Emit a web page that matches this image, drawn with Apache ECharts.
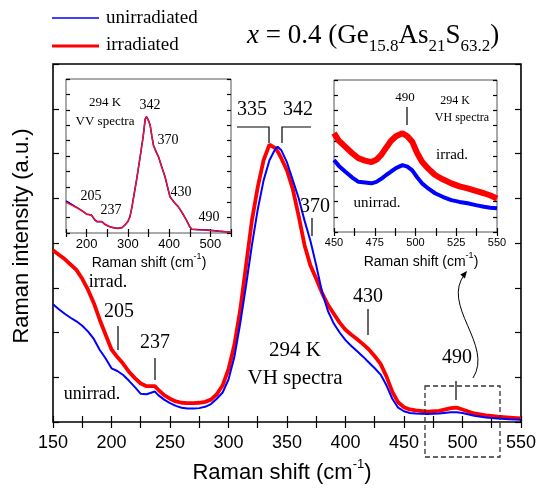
<!DOCTYPE html>
<html>
<head>
<meta charset="utf-8">
<script src="https://cdn.jsdelivr.net/npm/echarts@6/dist/echarts.min.js"></script>
<style>html,body{margin:0;padding:0;background:#fff}#c{width:539px;height:492px}</style>
</head>
<body>
<div id="c"></div>
<script>
// ---------- DATA ----------
const mainX = [150,155,160,165,170,175,180,185,190,195,200,205,210,215,220,225,230,237,240,245,250,255,260,265,270,275,280,285,290,295,300,305,310,315,320,325,330,335,340,342,345,350,355,360,365,370,375,380,385,390,395,400,405,410,415,420,425,430,435,440,445,450,455,460,470,480,490,495,500,510,520,530,540,550];
const mainUnirr = [2.63,2.52,2.42,2.33,2.25,2.15,2.02,1.85,1.61,1.42,1.2,1.14,1.05,0.92,0.78,0.63,0.62,0.68,0.6,0.5,0.42,0.36,0.32,0.3,0.3,0.31,0.34,0.4,0.52,0.66,0.95,1.45,2.2,3.05,3.95,4.75,5.4,5.85,6.1,6.15,6.08,5.8,5.4,5.0,4.5,4.05,3.5,2.9,2.48,2.2,2.0,1.83,1.7,1.58,1.46,1.33,1.2,1.06,0.82,0.52,0.32,0.24,0.2,0.19,0.18,0.19,0.22,0.22,0.2,0.14,0.1,0.08,0.06,0.05];
const mainIrr = [3.84,3.74,3.64,3.52,3.4,3.2,2.95,2.65,2.28,1.95,1.62,1.45,1.3,1.12,0.98,0.86,0.8,0.8,0.72,0.6,0.52,0.46,0.43,0.42,0.42,0.43,0.45,0.5,0.62,0.82,1.18,1.72,2.5,3.5,4.5,5.25,5.85,6.2,6.12,6.05,5.9,5.62,5.2,4.6,3.95,3.5,3.2,2.88,2.62,2.42,2.22,2.06,1.95,1.85,1.74,1.62,1.47,1.3,1.02,0.68,0.44,0.33,0.28,0.26,0.23,0.25,0.31,0.32,0.28,0.19,0.15,0.12,0.1,0.08];

const vvX = [150,160,170,180,190,200,205,212,220,225,230,237,245,255,265,275,285,293,300,305,310,315,321,330,337,342,345,350,354,358,362,368,374,382,390,396,402,412,422,432,442,450,455,470,487,500,520,550];
const vvUnirr = [2.08,1.92,1.75,1.6,1.42,1.22,1.2,1.15,0.85,0.74,0.74,0.74,0.55,0.42,0.34,0.3,0.34,0.52,0.75,1.06,1.7,2.5,3.44,5.0,6.25,7.4,7.55,7.3,7.0,6.3,5.7,5.3,4.96,4.3,3.66,3.0,2.36,2.0,1.71,1.3,0.84,0.4,0.24,0.22,0.2,0.17,0.12,0.05];
const vvIrr = [2.0,1.86,1.73,1.58,1.42,1.22,1.2,1.15,0.85,0.74,0.74,0.74,0.55,0.42,0.34,0.3,0.34,0.52,0.75,1.06,1.7,2.5,3.44,5.0,6.25,7.4,7.55,7.3,7.0,6.3,5.7,5.3,4.96,4.3,3.66,3.0,2.36,2.0,1.71,1.3,0.84,0.4,0.24,0.22,0.2,0.17,0.12,0.05];

const vhX = [450,453,457,461,465,469,473,476,479,482,485,488,492,495,498,501,504,508,512,517,522,527,532,537,542,546,550];
const vhIrr = [6.5,6.0,5.6,5.2,4.85,4.7,4.6,4.75,5.07,5.55,6.0,6.3,6.5,6.3,5.94,5.2,4.62,4.15,3.75,3.45,3.2,3.0,2.87,2.7,2.55,2.4,2.2];
const vhUnirr = [4.74,4.35,3.97,3.6,3.3,3.25,3.2,3.3,3.5,3.75,3.98,4.2,4.4,4.3,4.05,3.6,3.2,2.85,2.55,2.3,2.1,1.98,1.89,1.77,1.66,1.6,1.56];

const mainTickLabels = [150,200,250,300,350,400,450,500,550];
const vvTickLabels = [200,300,400,500];
const vhTickLabels = [450,475,500,525,550];

// ---------- CHART ----------
const SANS = 'Liberation Sans';
const SERIF = 'Liberation Serif';
const zip = (xs, ys) => xs.map((x, i) => [x, ys[i]]);

function xAxis(grid, min, max, interval, labels, bottom, fontSize, margin, tickLen) {
  return {
    type: 'value', gridIndex: grid, min, max, interval, position: bottom ? 'bottom' : 'top',
    axisLine: { show: false }, splitLine: { show: false },
    axisTick: { show: true, inside: true, length: tickLen, lineStyle: { color: '#000', width: 1.2 } },
    axisLabel: {
      show: bottom, margin, fontSize, fontFamily: SANS, color: '#000',
      showMinLabel: true, showMaxLabel: true,
      formatter: v => labels.includes(v) ? String(v) : ''
    }
  };
}
function yAxis(grid, min, max, interval, left, tickLen) {
  return {
    type: 'value', gridIndex: grid, min, max, interval, position: left ? 'left' : 'right',
    axisLine: { show: false }, splitLine: { show: false },
    axisTick: { show: true, inside: true, length: tickLen, lineStyle: { color: '#000', width: 1.2 } },
    axisLabel: { show: false }
  };
}
function line(xi, yi, data, color, width) {
  return { type: 'line', xAxisIndex: xi, yAxisIndex: yi, data, showSymbol: false, symbol: 'none',
    lineStyle: { color, width }, itemStyle: { color }, animation: false, silent: true };
}
function txt(x, y, text, size, family, extra) {
  return Object.assign({ type: 'text', x, y, z: 100, silent: true,
    style: Object.assign({ text, fontSize: size, fontFamily: family, fill: '#000',
      align: 'center', verticalAlign: 'middle', textAlign: 'center', textVerticalAlign: 'middle' }, extra || {}) });
}
function seg(points, w) {
  return { type: 'polyline', z: 100, silent: true, shape: { points }, style: { stroke: '#000', lineWidth: w || 1.2, fill: null } };
}
function supTitle(x, y, size, supSize) {
  return txt(x, y, '{n|Raman shift (cm}{s|-1}{n|)}', size, SANS, {
    rich: {
      n: { fontSize: size, fontFamily: SANS, lineHeight: size + 4, verticalAlign: 'bottom', fill: '#000' },
      s: { fontSize: supSize, fontFamily: SANS, lineHeight: supSize, padding: [0, 0, size + 4 - supSize, 0], verticalAlign: 'bottom', fill: '#000' }
    }
  });
}

const chart = echarts.init(document.getElementById('c'), null, { renderer: 'canvas' });
const gridStyle = { show: true, borderColor: '#000', backgroundColor: '#fff', containLabel: false };
chart.setOption({
  animation: false,
  backgroundColor: '#fff',
  grid: [
    Object.assign({ left: 53, top: 64, width: 469, height: 358, borderWidth: 1.6 }, gridStyle),
    Object.assign({ left: 66, top: 79, width: 165, height: 154, borderWidth: 1 }, gridStyle, { borderColor: '#555' }),
    Object.assign({ left: 334, top: 80, width: 163, height: 152, borderWidth: 1 }, gridStyle, { borderColor: '#555' })
  ],
  xAxis: [
    xAxis(0, 150, 550, 25, mainTickLabels, true, 18, 12, 6),
    xAxis(0, 150, 550, 25, mainTickLabels, false, 18, 12, 6),
    xAxis(1, 150, 550, 50, vvTickLabels, true, 13, 5, 4),
    xAxis(1, 150, 550, 50, vvTickLabels, false, 13, 5, 4),
    xAxis(2, 450, 550, 12.5, vhTickLabels, true, 11, 5, 4),
    xAxis(2, 450, 550, 12.5, vhTickLabels, false, 11, 5, 4)
  ],
  yAxis: [
    yAxis(0, 0, 8, 1, true, 6), yAxis(0, 0, 8, 1, false, 6),
    yAxis(1, 0, 10, 1, true, 4), yAxis(1, 0, 10, 1, false, 4),
    yAxis(2, 0, 10, 1, true, 4), yAxis(2, 0, 10, 1, false, 4)
  ],
  series: [
    line(0, 0, zip(mainX, mainIrr), '#ff0000', 3.8),
    line(0, 0, zip(mainX, mainUnirr), '#0000ff', 2),
    line(2, 2, zip(vvX, vvUnirr), '#0000ff', 1.6),
    line(2, 2, zip(vvX, vvIrr), '#ff1010', 1.4),
    line(4, 4, zip(vhX, vhIrr), '#ff0000', 6),
    line(4, 4, zip(vhX, vhUnirr), '#0000ff', 4)
  ],
  graphic: [
    // legend
    { type: 'line', z: 100, shape: { x1: 52, y1: 18, x2: 99, y2: 18 }, style: { stroke: '#0000ff', lineWidth: 1.5 } },
    { type: 'line', z: 100, shape: { x1: 52, y1: 46, x2: 99, y2: 46 }, style: { stroke: '#ff0000', lineWidth: 3 } },
    txt(106, 18, 'unirradiated', 19, SERIF, { align: 'left', textAlign: 'left' }),
    txt(106, 45, 'irradiated', 19, SERIF, { align: 'left', textAlign: 'left' }),
    // title (subscripts lowered via line heights)
    txt(247, 39, '{i|x}{n| = 0.4 (Ge}{s|15.8}{n|As}{s|21}{n|S}{s|63.2}{n|)}', 27, SERIF, {
      align: 'left', textAlign: 'left',
      rich: {
        i: { fontSize: 27, fontFamily: SERIF, fontStyle: 'italic', lineHeight: 26, verticalAlign: 'top', fill: '#000' },
        n: { fontSize: 27, fontFamily: SERIF, lineHeight: 26, verticalAlign: 'top', fill: '#000' },
        s: { fontSize: 17, fontFamily: SERIF, lineHeight: 33, verticalAlign: 'bottom', fill: '#000' }
      }
    }),
    // axis titles
    supTitle(282, 471, 22, 13),
    Object.assign(txt(22, 236, 'Raman intensity (a.u.)', 22, SANS), { rotation: Math.PI / 2 }),
    supTitle(149, 261, 14, 9),
    supTitle(421, 260, 14, 9),
    // main annotations
    txt(252, 110, '335', 20, SERIF), txt(298, 110, '342', 20, SERIF),
    seg([[237, 127], [269, 127], [269, 143]]), seg([[282, 143], [282, 127], [311, 127]]),
    txt(315, 207, '370', 20, SERIF), seg([[312, 218], [312, 236]]),
    txt(368, 297, '430', 20, SERIF), seg([[368, 309], [368, 335]]),
    txt(457, 358, '490', 20, SERIF), seg([[456, 381], [456, 400]]),
    txt(119, 312, '205', 20, SERIF), seg([[118, 326], [118, 350]]),
    txt(155, 343, '237', 20, SERIF), seg([[155, 358], [155, 380]]),
    txt(108, 282, 'irrad.', 18, SERIF), txt(92, 394, 'unirrad.', 18, SERIF),
    txt(295, 350, '294 K', 21, SERIF), txt(295, 378, 'VH spectra', 21, SERIF),
    { type: 'rect', z: 100, shape: { x: 425, y: 386, width: 75, height: 71 }, style: { fill: null, stroke: '#333', lineWidth: 1.3, lineDash: [5, 3] } },
    { type: 'bezierCurve', z: 100, shape: { x1: 473, y1: 378, cpx1: 494, cpy1: 345, cpx2: 440, cpy2: 305, x2: 465, y2: 274 }, style: { stroke: '#000', lineWidth: 1, fill: null } },
    { type: 'polygon', z: 100, shape: { points: [[467, 271], [464.9, 278.4], [460.3, 274.6]] }, style: { fill: '#000' } },
    // inset 1 annotations
    txt(105, 103, '294 K', 13, SERIF), txt(105, 122, 'VV spectra', 13, SERIF),
    txt(150, 105, '342', 14, SERIF), txt(168, 140, '370', 14, SERIF),
    txt(181, 192, '430', 14, SERIF), txt(209, 217, '490', 14, SERIF),
    txt(91, 196, '205', 14, SERIF), txt(111, 210, '237', 14, SERIF),
    // inset 2 annotations
    txt(405, 98, '490', 13, SERIF), seg([[407, 107], [407, 125]]),
    txt(455, 101, '294 K', 12, SERIF), txt(462, 118, 'VH spectra', 12, SERIF),
    txt(452, 155, 'irrad.', 15, SERIF), txt(377, 203, 'unirrad.', 15, SERIF)
  ]
});
</script>
</body>
</html>
